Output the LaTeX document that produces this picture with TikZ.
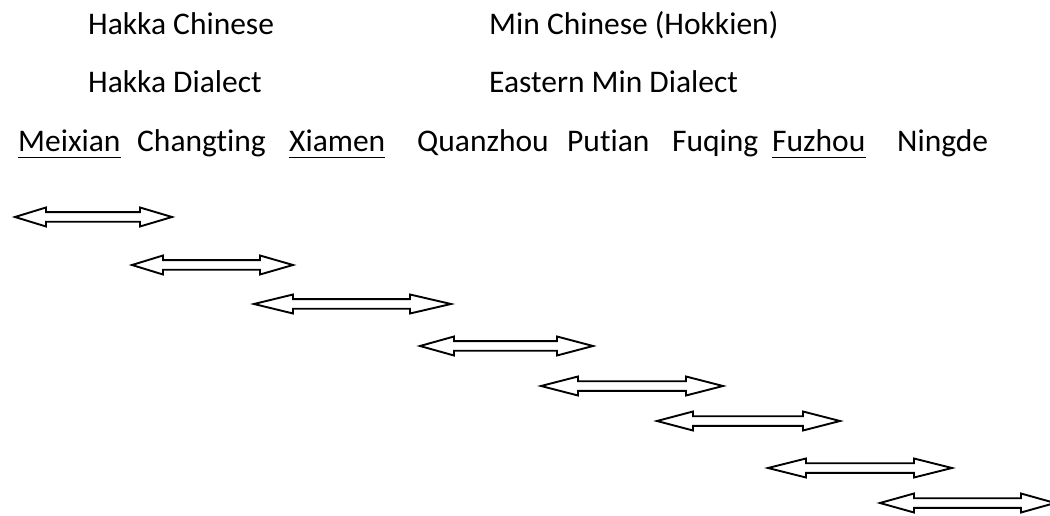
\documentclass[tikz,border=0pt]{standalone}
\usepackage{fontspec}
\setmainfont[Ligatures=NoCommon]{Carlito}
\newcommand\dblarrow[6]{%
  \draw[blockarrow] (#1,#3) -- ({#1+#4},{#3-9.5}) -- ({#1+#4},{#3-4.8}) -- ({#2-#5},{#3-4.8}) -- ({#2-#5},{#3-9.5}) -- (#2,#3)
    -- ({#2-#5},{#3+9.5}) -- ({#2-#5},{#3+4.8}) -- ({#1+#4},{#3+4.8}) -- ({#1+#4},{#3+9.5}) -- cycle;}
\tikzset{
  lbl/.style={anchor=base west, inner sep=0pt, font=\fontsize{31.5bp}{36bp}\selectfont},
  uline/.style={line width=1.4bp},
  blockarrow/.style={line width=1.9bp, line join=miter, fill=white}
}
\begin{document}
\begin{tikzpicture}[x=1bp,y=-1bp]
\useasboundingbox (0,0) rectangle (1050,516);
\clip (0,0) rectangle (1050,516);
\node[lbl] (hc) at (88,35) {Hakka Chinese};
\node[lbl] (mc) at (489,35) {Min Chinese (Hokkien)};
\node[lbl] (hd) at (88,93) {Hakka Dialect};
\node[lbl] (ed) at (489,93) {Eastern Min Dialect};
\node[lbl] (mei) at (18,152) {Meixian};
\node[lbl] (cha) at (137,152) {Changting};
\node[lbl] (xia) at (289,152) {Xiamen};
\node[lbl] (qua) at (417,152) {Quanzhou};
\node[lbl] (put) at (567,152) {Putian};
\node[lbl] (fuq) at (672,152) {Fuqing};
\node[lbl] (fuz) at (772,152) {Fuzhou};
\node[lbl] (nin) at (897,152) {Ningde};
\foreach \n in {mei,xia,fuz}
  \draw[uline] ([yshift=-5.5bp]\n.base west) -- ([yshift=-5.5bp]\n.base east);
\dblarrow{15}{172}{217}{31}{32}{a1}
\dblarrow{132}{293}{265}{31}{33}{a2}
\dblarrow{254}{451}{304}{39}{41}{a3}
\dblarrow{420}{593}{346}{34}{36}{a4}
\dblarrow{541}{723}{386}{37}{37}{a5}
\dblarrow{657}{840}{421}{36}{37}{a6}
\dblarrow{768}{952}{468}{38}{38}{a7}
\dblarrow{880}{1055}{503}{34}{34}{a8}
\end{tikzpicture}
\end{document}
